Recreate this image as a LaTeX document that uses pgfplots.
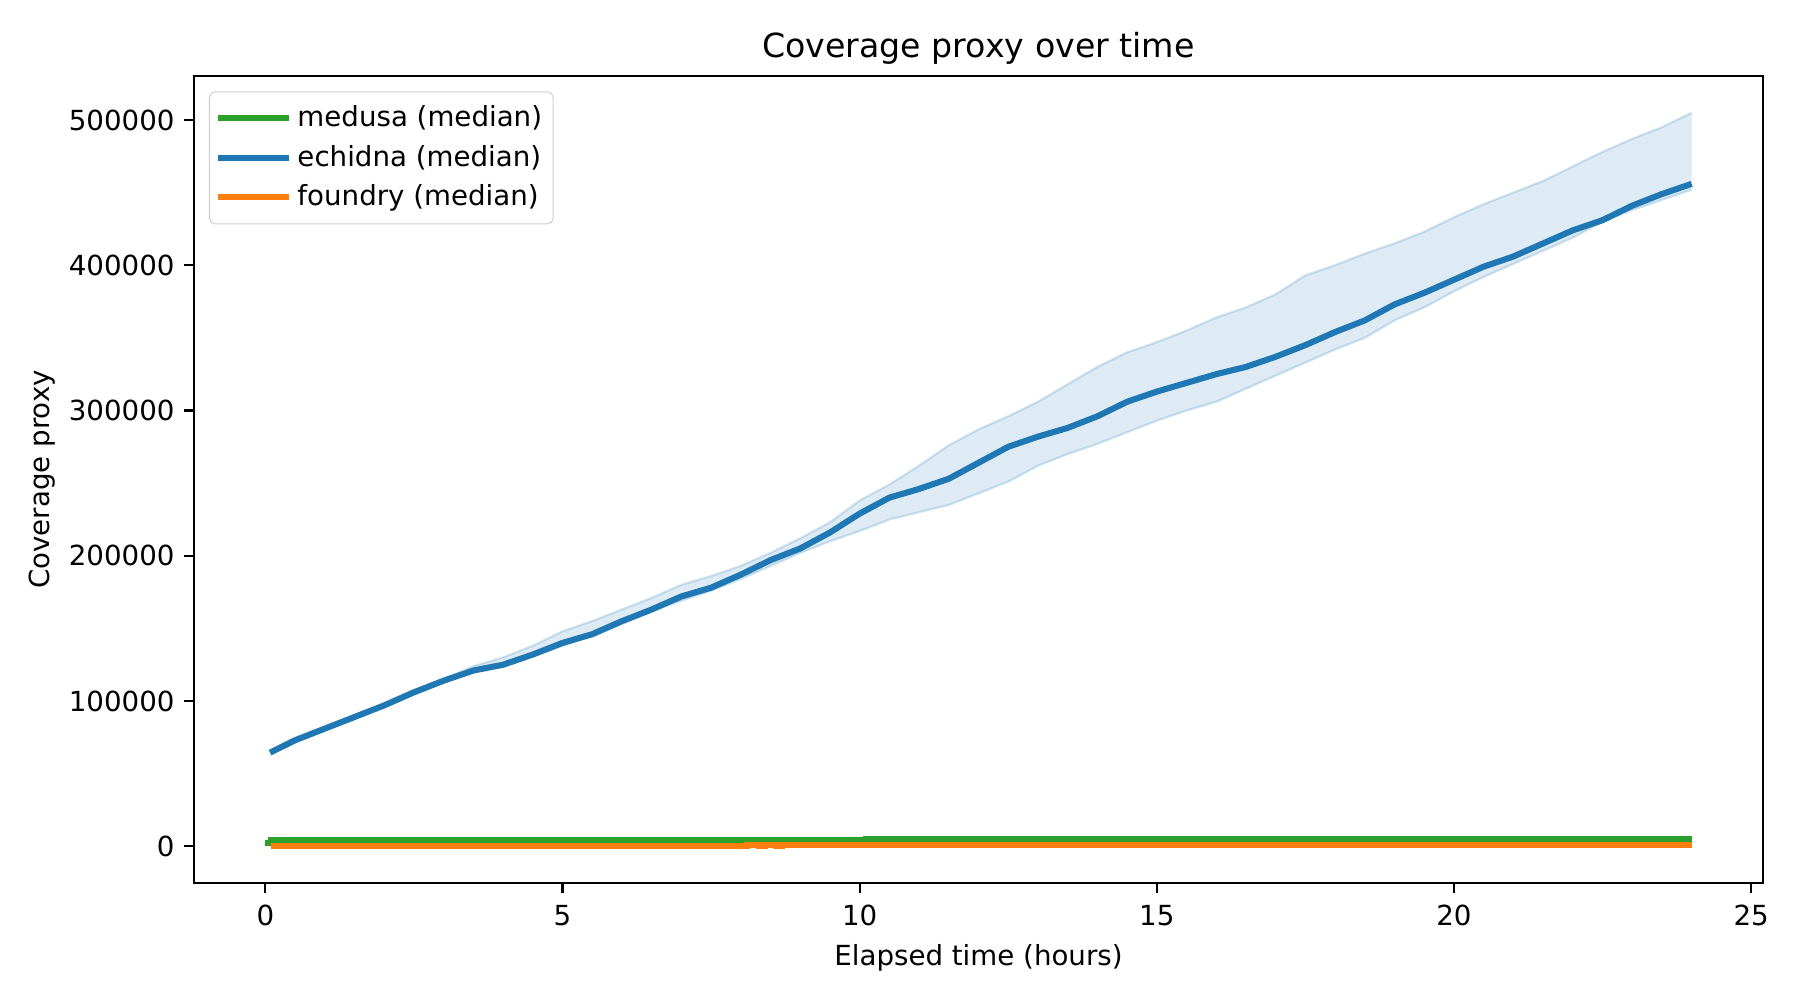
\documentclass[border=0pt]{standalone}
\usepackage{fontspec}
\setmainfont{DejaVu Sans}
\usepackage{pgfplots}
\pgfplotsset{compat=1.18}
\usepgfplotslibrary{fillbetween}

\definecolor{tabblue}{HTML}{1F77B4}
\definecolor{taborange}{HTML}{FF7F0E}
\definecolor{tabgreen}{HTML}{2CA02C}

% echidna median
\pgfplotstableread{
x y
0.08 64500
0.5 73000
1.0 81000
1.5 89000
2.0 97000
2.5 106000
3.0 114000
3.5 121000
4.0 125000
4.5 132000
5.0 140000
5.5 146000
6.0 155000
6.5 163000
7.0 172000
7.5 178000
8.0 187000
8.5 197000
9.0 205000
9.5 216000
10.0 229000
10.5 240000
11.0 246000
11.5 253000
12.0 264000
12.5 275000
13.0 282000
13.5 288000
14.0 296000
14.5 306000
15.0 313000
15.5 319000
16.0 325000
16.5 330000
17.0 337000
17.5 345000
18.0 354000
18.5 362000
19.0 373000
19.5 381000
20.0 390000
20.5 399000
21.0 406000
21.5 415000
22.0 424000
22.5 431000
23.0 441000
23.5 449000
24.0 456000
}\echmed

% echidna upper band
\pgfplotstableread{
x y
0.08 64500
0.5 73000
1 81000
1.5 89000
2 97000
2.5 106000
3 115000
3.5 124000
4 130000
4.5 138000
5 148000
5.5 155000
6 163000
6.5 171000
7 180000
7.5 186000
8 193000
8.5 202000
9 212000
9.5 223000
10 238000
10.5 249000
11 262000
11.5 276000
12 287000
12.5 296000
13 306000
13.5 318000
14 330000
14.5 340000
15 347000
15.5 355000
16 364000
16.5 371000
17 380000
17.5 393000
18 400000
18.5 408000
19 415000
19.5 423000
20 433000
20.5 442000
21 450000
21.5 458000
22 468000
22.5 478000
23 487000
23.5 495000
24 505000
}\echup

% echidna lower band
\pgfplotstableread{
x y
0.08 64500
0.5 73000
1 81000
1.5 89000
2 97000
2.5 105000
3 113000
3.5 120000
4 124000
4.5 131000
5 138000
5.5 145000
6 153000
6.5 162000
7 169000
7.5 176000
8 184000
8.5 193000
9 202000
9.5 210000
10 217000
10.5 225000
11 230000
11.5 235000
12 243000
12.5 251000
13 262000
13.5 270000
14 277000
14.5 285000
15 293000
15.5 300000
16 306000
16.5 315000
17 324000
17.5 333000
18 342000
18.5 350000
19 362000
19.5 371000
20 382000
20.5 392000
21 401000
21.5 410000
22 419000
22.5 430000
23 438000
23.5 445000
24 452000
}\echlo

\begin{document}
\begin{tikzpicture}
\begin{axis}[
    at={(0,0)}, anchor=south west,
    scale only axis,
    width=7.845in, height=4.035in,
    xmin=-1.2, xmax=25.2,
    ymin=-25250, ymax=530250,
    xtick={0,5,10,15,20,25},
    xticklabels={0,5,10,15,20,25},
    ytick={0,100000,200000,300000,400000,500000},
    yticklabels={0,100000,200000,300000,400000,500000},
    scaled y ticks=false,
    /pgf/number format/assume math mode=true,
    tick align=outside,
    major tick length=3.5pt,
    tick style={black, line width=0.8pt},
    axis line style={line width=0.8pt},
    xtick pos=bottom, ytick pos=left,
    tick label style={font=\fontsize{10}{12}\selectfont},
    xticklabel style={yshift=-1pt},
    title={Coverage proxy over time},
    title style={at={(axis description cs:0.5,1.0207)}, anchor=base, yshift=-5.4pt, font=\fontsize{12}{14}\selectfont, inner sep=0pt},
    xlabel={Elapsed time (hours)},
    xlabel style={at={(axis description cs:0.5,-0.0929)}, anchor=center, font=\fontsize{10}{12}\selectfont, inner sep=0pt},
    ylabel={Coverage proxy},
    ylabel style={at={(axis description cs:-0.0969,0.5)}, anchor=center, font=\fontsize{10}{12}\selectfont, inner sep=0pt},
    legend cell align=left,
    legend style={at={(axis description cs:0.0095,0.981)}, anchor=north west,
        draw=black!18, rounded corners=2pt, fill=white, fill opacity=0.8, text opacity=1,
        font=\fontsize{10}{15}\selectfont, inner xsep=2pt, inner ysep=3pt,
        row sep=1.2pt},
    legend image code/.code={\draw[#1, line width=2.2pt] (0cm,0cm) -- (0.78cm,0cm);
        \path (0.78cm,0cm) -- (0.9cm,0cm);},
]
\addplot[tabgreen, line width=2.2pt, const plot] coordinates {
    (0,2000) (0.1,4000) (10.1,5000) (24,5000)};
\addlegendentry{medusa (median)}
\addplot[name path=up, tabblue, draw opacity=0.2, line width=0.8pt, forget plot] table {\echup};
\addplot[name path=lo, tabblue, draw opacity=0.2, line width=0.8pt, forget plot] table {\echlo};
\addplot[tabblue, fill opacity=0.15, draw=none, forget plot] fill between[of=up and lo];
\addplot[tabblue, line width=2.2pt] table {\echmed};
\addlegendentry{echidna (median)}
\addplot[taborange, line width=2.2pt, const plot] coordinates {
    (0.1,0) (8.1,800) (8.3,0) (8.4,800) (8.6,0) (8.7,1200) (24,1200)};
\addlegendentry{foundry (median)}
\end{axis}
\pgfresetboundingbox
\path[use as bounding box] (-0.97in,-0.585in) rectangle (8.03in,4.415in);
\end{tikzpicture}
\end{document}
